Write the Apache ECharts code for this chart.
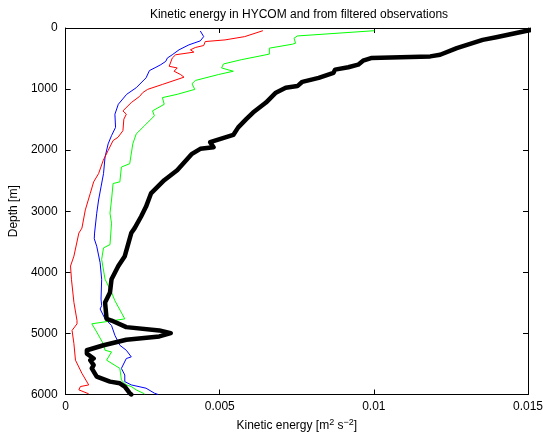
<!DOCTYPE html>
<html><head><meta charset="utf-8">
<script src="https://cdn.jsdelivr.net/npm/echarts@6/dist/echarts.min.js"></script>
<style>html,body{margin:0;padding:0;background:#fff}#c{width:547px;height:437px}</style>
</head><body><div id="c"></div>
<script>
var title = 'Kinetic energy in HYCOM and from filtered observations';
var xTicks = [0, 0.005, 0.01, 0.015];
var yTicks = [0, 1000, 2000, 3000, 4000, 5000, 6000];

var blueKE = [0.00437,0.00448,0.00437,0.00400,0.00368,0.00346,0.00330,0.00325,0.00309,0.00293,0.00272,0.00261,0.00229,0.00198,0.00171,0.00160,0.00162,0.00149,0.00138,0.00128,0.00123,0.00115,0.00107,0.00101,0.00094,0.00093,0.00101,0.00112,0.00117,0.00115,0.00117,0.00112,0.00128,0.00149,0.00160,0.00176,0.00197,0.00213,0.00197,0.00181,0.00192,0.00192,0.00213,0.00261,0.00288,0.00300];
var blueDepth = [49,141,211,276,357,438,492,546,600,643,697,816,978,1086,1249,1411,1627,1762,1897,2113,2384,2600,2816,3032,3357,3450,3573,3843,4113,4438,4546,4600,4762,4870,5032,5194,5276,5384,5411,5573,5681,5789,5843,5897,5978,6000];

var redKE = [0.00640,0.00581,0.00517,0.00453,0.00448,0.00421,0.00405,0.00416,0.00357,0.00346,0.00336,0.00362,0.00352,0.00373,0.00384,0.00314,0.00266,0.00250,0.00240,0.00213,0.00186,0.00197,0.00189,0.00186,0.00170,0.00154,0.00138,0.00122,0.00107,0.00091,0.00080,0.00064,0.00053,0.00043,0.00027,0.00016,0.00019,0.00027,0.00037,0.00037,0.00021,0.00027,0.00032,0.00053,0.00075,0.00048,0.00043,0.00075];
var redDepth = [44,141,195,222,287,319,357,395,438,492,627,654,708,762,805,924,1005,1059,1120,1221,1357,1411,1492,1681,1789,1843,2005,2168,2384,2519,2708,2978,3276,3357,3735,3897,4113,4492,4789,4843,4951,5168,5438,5654,5843,5870,5924,5989];

var greenKE = [0.01002,0.00752,0.00741,0.00746,0.00736,0.00661,0.00661,0.00624,0.00570,0.00512,0.00506,0.00544,0.00496,0.00421,0.00410,0.00419,0.00362,0.00314,0.00320,0.00282,0.00288,0.00256,0.00229,0.00218,0.00208,0.00181,0.00176,0.00154,0.00149,0.00144,0.00149,0.00144,0.00123,0.00117,0.00128,0.00149,0.00160,0.00192,0.00085,0.00101,0.00122,0.00128,0.00149,0.00133,0.00176,0.00181,0.00197,0.00213,0.00229,0.00256];
var greenDepth = [44,130,168,249,265,330,427,465,519,589,654,708,762,859,913,1005,1086,1140,1249,1357,1438,1600,1735,1897,2222,2276,2519,2546,2816,3032,3195,3546,3600,3789,4113,4330,4465,4762,4843,4978,5168,5276,5303,5438,5573,5762,5843,5870,5924,5989];

var blackKE = [0.01530,0.01397,0.01353,0.01269,0.01215,0.01183,0.00991,0.00965,0.00949,0.00917,0.00874,0.00869,0.00821,0.00768,0.00752,0.00714,0.00682,0.00666,0.00650,0.00608,0.00586,0.00560,0.00544,0.00469,0.00480,0.00437,0.00410,0.00362,0.00320,0.00277,0.00261,0.00245,0.00224,0.00213,0.00192,0.00171,0.00149,0.00144,0.00128,0.00133,0.00149,0.00197,0.00304,0.00341,0.00304,0.00197,0.00123,0.00069,0.00069,0.00091,0.00080,0.00091,0.00085,0.00101,0.00144,0.00176,0.00192,0.00208,0.00213];
var blackDepth = [10,151,195,330,438,465,492,535,600,643,681,735,816,881,951,978,1059,1140,1221,1384,1492,1627,1751,1870,1951,1978,2060,2330,2492,2708,2924,3086,3276,3357,3735,3897,4113,4330,4492,4762,4789,4897,4951,4995,5049,5103,5194,5276,5330,5411,5438,5519,5573,5708,5789,5816,5870,5978,6000];

function pairs(a, b) { return a.map(function (v, i) { return [v, b[i]]; }); }

var font = 'Liberation Sans, Arial, Helvetica, sans-serif';
var axisCommon = {
  axisLine: { show: true, onZero: false, lineStyle: { color: '#000', width: 1 } },
  axisTick: { show: true, inside: true, length: 5, lineStyle: { color: '#000' } },
  splitLine: { show: false }
};
var chart = echarts.init(document.getElementById('c'), null, { renderer: 'canvas' });
chart.setOption({
  animation: false,
  backgroundColor: '#fff',
  title: { text: title, left: 294, top: 4, textAlign: 'center',
    textStyle: { fontFamily: font, fontSize: 12, fontWeight: 'normal', color: '#000' } },
  grid: { left: 60, right: 19, top: 28, bottom: 39, containLabel: false },
  xAxis: [
    Object.assign({ type: 'value', position: 'bottom', min: 0, max: 0.015, interval: 0.005,
      name: '{a|Kinetic energy [m}{s|2}{a| s}{s|\u22122}{a|]}', nameLocation: 'middle', nameGap: 24,
      nameTextStyle: { fontFamily: font, color: '#000',
        rich: { a: { fontFamily: font, fontSize: 12, color: '#000' },
                s: { fontFamily: font, fontSize: 9, color: '#000', padding: [0, 0, 6, 0] } } },
      axisLabel: { fontFamily: font, fontSize: 12, color: '#000', margin: 6,
        formatter: function (v) { var i = xTicks.indexOf(v); return i >= 0 ? String(xTicks[i]) : ''; } }
    }, axisCommon),
    Object.assign({ type: 'value', position: 'top', min: 0, max: 0.015, interval: 0.005,
      axisLabel: { show: false } }, axisCommon)
  ],
  yAxis: [
    Object.assign({ type: 'value', position: 'left', inverse: true, min: 0, max: 6000, interval: 1000,
      name: 'Depth [m]', nameLocation: 'middle', nameGap: 40,
      nameTextStyle: { fontFamily: font, fontSize: 12, color: '#000' },
      axisLabel: { fontFamily: font, fontSize: 12, color: '#000', margin: 8,
        formatter: function (v) { return yTicks.indexOf(v) >= 0 ? String(v) : ''; } }
    }, axisCommon),
    Object.assign({ type: 'value', position: 'right', inverse: true, min: 0, max: 6000, interval: 1000,
      axisLabel: { show: false } }, axisCommon)
  ],
  series: [
    { type: 'line', data: pairs(blueKE, blueDepth), showSymbol: false, symbol: 'none', clip: true,
      lineStyle: { color: '#0000ff', width: 1 }, z: 3 },
    { type: 'line', data: pairs(redKE, redDepth), showSymbol: false, symbol: 'none', clip: true,
      lineStyle: { color: '#ff0000', width: 1 }, z: 3 },
    { type: 'line', data: pairs(greenKE, greenDepth), showSymbol: false, symbol: 'none', clip: true,
      lineStyle: { color: '#00ff00', width: 1 }, z: 3 },
    { type: 'line', data: pairs(blackKE, blackDepth), showSymbol: false, symbol: 'none', clip: true,
      lineStyle: { color: '#000000', width: 4.5, join: 'round', cap: 'round' }, z: 4 }
  ]
});
</script></body></html>
